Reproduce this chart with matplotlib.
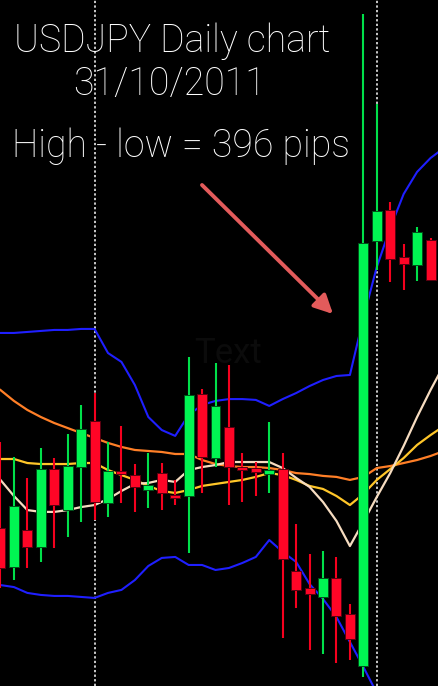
import numpy as np
import matplotlib
matplotlib.use('Agg')
import matplotlib.pyplot as plt

# USDJPY daily candles (open, high, low, close)
opens = [76.450, 76.217, 76.438, 76.336, 76.802, 76.557, 76.814, 77.089, 76.599, 76.790,
         76.766, 76.677, 76.778, 76.647, 76.641, 77.250, 76.868, 77.053, 76.814, 76.808,
         76.772, 76.802, 76.193, 76.092, 76.038, 76.151, 75.936, 75.626, 78.164, 78.350,
         78.069, 78.021, 78.170]
highs = [76.964, 76.874, 76.749, 76.928, 76.868, 77.011, 77.185, 77.256, 76.964, 77.059,
         76.832, 76.898, 76.838, 76.737, 77.471, 77.280, 77.436, 77.424, 76.898, 76.844,
         77.083, 76.898, 76.474, 76.295, 76.313, 76.277, 75.996, 79.520, 78.983, 78.397,
         78.146, 78.248, 78.182]
lows = [76.092, 76.139, 76.211, 76.247, 76.330, 76.396, 76.486, 76.498, 76.516, 76.599,
        76.546, 76.569, 76.557, 76.587, 76.301, 76.659, 76.814, 76.587, 76.605, 76.641,
        76.659, 75.793, 75.972, 75.721, 75.697, 75.643, 75.661, 75.560, 77.991, 77.919,
        77.872, 77.925, 77.925]
closes = [76.211, 76.581, 76.336, 76.802, 76.587, 76.820, 77.041, 76.605, 76.790, 76.772,
          76.695, 76.707, 76.659, 76.629, 77.244, 76.874, 77.179, 76.814, 76.796, 76.784,
          76.796, 76.265, 76.080, 76.056, 76.151, 75.924, 75.787, 78.152, 78.344, 78.057,
          78.027, 78.218, 77.931]

# bollinger bands
bb_upper = [77.615, 77.615, 77.621, 77.627, 77.633, 77.633, 77.639, 77.639, 77.495, 77.442,
            77.304, 77.113, 77.035, 77.000, 77.125, 77.185, 77.209, 77.220, 77.220, 77.215,
            77.179, 77.220, 77.256, 77.298, 77.334, 77.358, 77.364, 77.704, 78.009, 78.242,
            78.445, 78.577, 78.660, 78.720]
bb_lower = [76.109, 76.097, 76.062, 76.050, 76.044, 76.044, 76.038, 76.032, 76.062, 76.080,
            76.139, 76.223, 76.271, 76.277, 76.229, 76.229, 76.199, 76.211, 76.241, 76.277,
            76.378, 76.307, 76.247, 76.115, 76.026, 75.918, 75.769, 75.620, 75.464]

# moving averages
ma_slow = [77.274, 77.209, 77.155, 77.113, 77.077, 77.047, 77.017, 76.988, 76.958, 76.934,
           76.916, 76.910, 76.904, 76.892, 76.892, 76.856, 76.832, 76.820, 76.814, 76.814,
           76.808, 76.796, 76.778, 76.772, 76.761, 76.755, 76.737, 76.755, 76.808, 76.820,
           76.838, 76.856, 76.880, 76.910]
ma_mid = [76.862, 76.862, 76.838, 76.832, 76.832, 76.832, 76.838, 76.838, 76.796, 76.766,
          76.737, 76.701, 76.671, 76.659, 76.677, 76.701, 76.713, 76.725, 76.737, 76.755,
          76.778, 76.766, 76.737, 76.701, 76.683, 76.641, 76.587, 76.653, 76.737, 76.802,
          76.868, 76.946, 77.005, 77.059]
ma_fast = [76.737, 76.641, 76.557, 76.546, 76.546, 76.557, 76.575, 76.587, 76.623, 76.671,
           76.713, 76.719, 76.737, 76.725, 76.796, 76.814, 76.826, 76.844, 76.844, 76.844,
           76.844, 76.808, 76.749, 76.695, 76.605, 76.492, 76.342, 76.486, 76.635, 76.778,
           76.940, 77.113, 77.274, 77.424]

# days marked with dotted separators
marked_days = [7, 28]

fig = plt.figure(figsize=(4.39, 6.86), dpi=100, facecolor='black')
ax = fig.add_axes([0, 0, 1, 1])
ax.set_facecolor('black')
ax.set_axis_off()

# dotted day separators
for d in marked_days:
    ax.axvline(d, color='white', lw=1.1, ls=(0, (1.5, 1.5)), zorder=1)

# indicator lines (behind candles)
ax.plot(np.arange(len(bb_upper)), bb_upper, color='#1f1fff', lw=1.5, zorder=2)
ax.plot(np.arange(len(bb_lower)), bb_lower, color='#1f1fff', lw=1.5, zorder=2)
ax.plot(np.arange(len(ma_slow)), ma_slow, color='#ff7f27', lw=1.6, zorder=2)
ax.plot(np.arange(len(ma_mid)), ma_mid, color='#ffc629', lw=1.6, zorder=2)
ax.plot(np.arange(len(ma_fast)), ma_fast, color='#f6dcc0', lw=1.6, zorder=2)

# candles
o = np.array(opens)
h = np.array(highs)
l = np.array(lows)
c = np.array(closes)
x = np.arange(len(o))
up = c >= o
wick_col = np.where(up, '#00e04a', '#f5001e')
body_col = np.where(up, '#00f552', '#ff0526')
edge_col = np.where(up, '#00501a', '#5a0010')
ax.vlines(x, l, h, colors=wick_col, lw=1.5, zorder=3)
ax.bar(x, np.abs(c - o), bottom=np.minimum(o, c), width=0.74,
       color=body_col, edgecolor=edge_col, linewidth=0.7, zorder=4)

ax.set_xlim(-0.037, 32.63)
ax.set_ylim(75.506, 79.604)

# annotations
font = dict(family='Roboto', weight='light', color='white', size=27)
fig.text(0.392, 0.924, 'USDJPY Daily chart', ha='center', va='baseline', **font)
fig.text(0.387, 0.8615, '31/10/2011', ha='center', va='baseline', **font)
fig.text(0.412, 0.771, 'High - low = 396 pips', ha='center', va='baseline', **font)
ax.text(0.52, 0.485, 'Text', transform=ax.transAxes, ha='center', va='center',
        family='Roboto', size=25, color='#0b0b0b', zorder=0)

ax.annotate('', xy=(333, 372), xytext=(202, 501),
            xycoords='figure pixels', textcoords='figure pixels',
            arrowprops=dict(arrowstyle='-|>', color='#e35b5b', lw=2.8,
                            mutation_scale=28, shrinkA=0, shrinkB=0),
            zorder=5)

plt.savefig('out.png', dpi=100, facecolor='black')
